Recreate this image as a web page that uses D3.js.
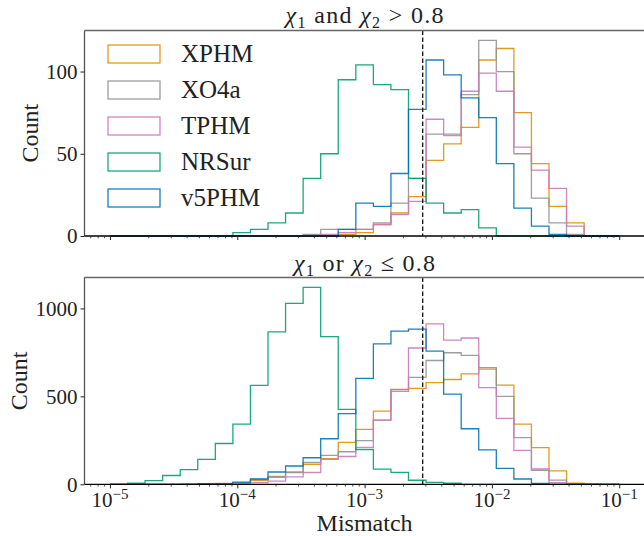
<!DOCTYPE html>
<html>
<head>
<meta charset="utf-8">
<script src="https://cdn.jsdelivr.net/npm/d3@7"></script>
<style>
  body { margin: 0; background: #fff; }
  svg { display: block; }
  text { font-family: "Liberation Serif", "DejaVu Serif", serif; fill: #222; }
</style>
</head>
<body>
<svg id="chart" width="644" height="536"></svg>
<script>
// Histogram bins: 29 log-spaced bins between 1e-5 and 1e-1
const binExpMin = -5, binExpMax = -1, binCount = 29;

const seriesNames  = ["XPHM", "XO4a", "TPHM", "NRSur", "v5PHM"];
const seriesColors = ["#de8f05", "#949494", "#cc78bc", "#029e73", "#0173b2"];

// Counts per bin, upper panel (chi1 and chi2 > 0.8)
const xphmHigh  = [0,0,0,0,0,0,0,0,0,0,0,0,0,1,2,7,14,24,46,56,66,107,114,75,44,18,8,0,0];
const xo4aHigh  = [0,0,0,0,0,0,0,0,0,0,0,1,4,4,4,8,20,35,62,62,86,119,100,50,23,8,1,0,0];
const tphmHigh  = [0,0,0,0,0,0,0,0,0,0,0,0,1,2,4,7,13,21,71,61,88,99,88,54,40,29,6,0,0];
const nrsurHigh = [0,0,0,0,0,0,0,2,4,8,14,35,50,95,104,92,89,35,20,14,16,5,0,0,0,0,0,0,0];
const v5phmHigh = [0,0,0,0,0,0,0,0,0,0,0,0,0,4,20,18,38,77,107,98,84,72,44,17,6,1,0,0,0];

// Counts per bin, lower panel (chi1 or chi2 <= 0.8)
const xphmLow  = [0,0,0,0,0,2,4,10,22,40,70,114,146,238,312,416,540,545,578,596,628,655,564,342,208,76,7,4,0];
const xo4aLow  = [0,0,0,0,1,3,5,10,28,45,66,125,165,185,248,365,538,608,704,748,733,664,500,265,80,24,4,0,0];
const tphmLow  = [0,0,0,0,0,0,1,4,10,18,42,67,142,158,210,365,528,775,912,820,832,550,375,193,87,9,0,0,0];
const nrsurLow = [0,6,21,50,83,142,232,342,562,867,1029,1120,840,426,198,86,68,23,11,6,0,0,0,0,0,0,0,0,0];
const v5phmLow = [0,0,0,0,1,3,4,12,30,70,104,151,259,402,602,799,871,882,757,513,316,196,91,30,5,0,0,0,0];

const threshold = 0.00286;          // vertical dashed reference line
const xTickExps = [-5, -4, -3, -2, -1];
const yTicksHigh = [0, 50, 100];
const yTicksLow  = [0, 500, 1000];

const FONT = "Liberation Serif, DejaVu Serif, serif";
const edges = d3.range(binCount + 1).map(i => Math.pow(10, binExpMin + i * (binExpMax - binExpMin) / binCount));

const svg = d3.select("#chart");
const left = 84.5, right = 644.7;
const x = d3.scaleLog().domain([Math.pow(10, -5.2), Math.pow(10, -0.8)]).range([left, right]);

const panels = [
  { top: 30.5, bottom: 236, series: [xphmHigh, xo4aHigh, tphmHigh, nrsurHigh, v5phmHigh], yTicks: yTicksHigh,
    title: [["χ", "i"], ["1", "sub"], [" and ", "n"], ["χ", "i"], ["2", "sub"], [" > 0.8", "n"]],
    titleY: 23, titleLen: 158, labelX: 38, showXLabels: false, legend: true },
  { top: 277.5, bottom: 484.3, series: [xphmLow, xo4aLow, tphmLow, nrsurLow, v5phmLow], yTicks: yTicksLow,
    title: [["χ", "i"], ["1", "sub"], [" or ", "n"], ["χ", "i"], ["2", "sub"], [" ≤ 0.8", "n"]],
    titleY: 271, titleLen: 141, labelX: 27, showXLabels: true, legend: false }
];

// Minor tick positions on the log axis
const minorTicks = [];
for (let e = -6; e <= -1; e++) {
  for (let m = 2; m <= 9; m++) {
    const v = m * Math.pow(10, e);
    if (v > x.domain()[0] && v < x.domain()[1]) minorTicks.push(v);
  }
}
const majorTicks = xTickExps.map(e => Math.pow(10, e));

panels.forEach(p => {
  const maxCount = d3.max(p.series, s => d3.max(s));
  const y = d3.scaleLinear().domain([0, maxCount * 1.05]).range([p.bottom, p.top]);
  const g = svg.append("g");

  // step outlines of each histogram
  const line = d3.line().x(d => x(d[0])).y(d => y(d[1]));
  p.series.forEach((counts, si) => {
    const pts = [[edges[0], 0]];
    counts.forEach((c, i) => { pts.push([edges[i], c]); pts.push([edges[i + 1], c]); });
    pts.push([edges[binCount], 0]);
    g.append("path").attr("d", line(pts))
      .attr("fill", "none").attr("stroke", seriesColors[si])
      .attr("stroke-width", 1.3).attr("stroke-opacity", 0.9)
      .attr("stroke-linejoin", "miter");
  });

  // dashed reference line
  g.append("line").attr("x1", x(threshold)).attr("x2", x(threshold))
    .attr("y1", p.top).attr("y2", p.bottom)
    .attr("stroke", "#111").attr("stroke-width", 1.3).attr("stroke-dasharray", "4.5,2.5");

  // spines
  g.append("line").attr("x1", left).attr("x2", right).attr("y1", p.top).attr("y2", p.top)
    .attr("stroke", "#666").attr("stroke-width", 1.3);
  g.append("line").attr("x1", left).attr("x2", left).attr("y1", p.top).attr("y2", p.bottom)
    .attr("stroke", "#555").attr("stroke-width", 1.3);
  g.append("line").attr("x1", left).attr("x2", right).attr("y1", p.bottom).attr("y2", p.bottom)
    .attr("stroke", "#000").attr("stroke-width", 1.3);

  // y axis ticks
  const yAxis = g.append("g").attr("transform", `translate(${left},0)`)
    .call(d3.axisLeft(y).tickValues(p.yTicks).tickSize(4).tickPadding(3).tickFormat(d3.format("d")));
  yAxis.attr("font-family", FONT).attr("font-size", 21);
  yAxis.select(".domain").remove();
  yAxis.selectAll("line").attr("stroke", "#222").attr("stroke-width", 1);
  yAxis.selectAll("text").attr("fill", "#222");

  // x axis ticks
  const xMajor = g.append("g").attr("transform", `translate(0,${p.bottom})`)
    .call(d3.axisBottom(x).tickValues(majorTicks).tickSize(4).tickFormat(""));
  xMajor.select(".domain").remove();
  xMajor.selectAll("line").attr("stroke", "#222").attr("stroke-width", 1);
  const xMinor = g.append("g").attr("transform", `translate(0,${p.bottom})`)
    .call(d3.axisBottom(x).tickValues(minorTicks).tickSize(2.3).tickFormat(""));
  xMinor.select(".domain").remove();
  xMinor.selectAll("line").attr("stroke", "#222").attr("stroke-width", 0.8);

  if (p.showXLabels) {
    xTickExps.forEach(e => {
      const t = g.append("text").attr("x", x(Math.pow(10, e))).attr("y", 507)
        .attr("text-anchor", "middle").attr("font-size", 21).attr("font-family", FONT);
      t.append("tspan").text("10");
      t.append("tspan").attr("dy", -8).attr("font-size", 15).text("−" + Math.abs(e));
    });
    g.append("text").attr("x", (left + right) / 2).attr("y", 531)
      .attr("text-anchor", "middle").attr("font-size", 24).attr("font-family", FONT).text("Mismatch");
  }

  // y label
  g.append("text").attr("transform", `translate(${p.labelX},${(p.top + p.bottom) / 2}) rotate(-90)`)
    .attr("text-anchor", "middle").attr("font-size", 24).attr("font-family", FONT).text("Count");

  // panel title
  const title = g.append("text").attr("x", (left + right) / 2).attr("y", p.titleY)
    .attr("text-anchor", "middle").attr("font-size", 24).attr("font-family", FONT)
    .attr("textLength", p.titleLen).attr("lengthAdjust", "spacing");
  let lowered = false;
  p.title.forEach(([s, kind]) => {
    const ts = title.append("tspan").text(s);
    if (kind === "i") ts.attr("font-style", "italic");
    if (kind === "sub") { ts.attr("font-size", 16).attr("dy", 5); lowered = true; }
    else if (lowered) { ts.attr("dy", -5); lowered = false; }
  });

  if (p.legend) {
    seriesNames.forEach((name, i) => {
      const yy = 45 + 36 * i;
      g.append("rect").attr("x", 108).attr("y", yy).attr("width", 52).attr("height", 18)
        .attr("fill", "none").attr("stroke", seriesColors[i]).attr("stroke-width", 1.3)
        .attr("stroke-opacity", 0.9);
      g.append("text").attr("x", 181).attr("y", yy + 17).attr("font-size", 25)
        .attr("font-family", FONT).text(name);
    });
  }
});
</script>
</body>
</html>
